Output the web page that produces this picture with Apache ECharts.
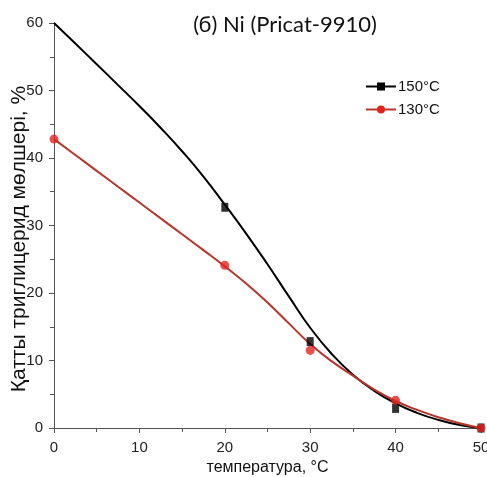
<!DOCTYPE html>
<html>
<head>
<meta charset="utf-8">
<script src="https://cdn.jsdelivr.net/npm/echarts@6/dist/echarts.min.js"></script>
<style>
html,body{margin:0;padding:0;background:#fff;}
#chart{width:487px;height:477px;}
</style>
</head>
<body>
<div id="chart"></div>
<script>
// ---- data ----
const titleText = '(б) Ni (Pricat-9910)';
const xAxisTitle = 'температура, °C';
const yAxisTitle = 'Қатты триглицерид мөлшері, %';
const seriesNames = ['150°C', '130°C'];

// fitted curves
const curveX   = [0, 2.5, 5, 7.5, 10, 12.5, 15, 17.5, 20, 22.5, 25, 27.5, 30, 32.5, 35, 37.5, 40, 42.5, 45, 47.5, 50];
const curve150 = [60, 56.95, 53.9, 50.8, 47.7, 44.45, 41.0, 37.25, 33.1, 28.8, 24.25, 19.5, 14.85, 11.0, 7.9, 5.5, 3.65, 2.25, 1.2, 0.45, 0];
const curve130 = [42.8, 40.45, 38.1, 35.75, 33.4, 31.05, 28.7, 26.35, 23.95, 21.4, 18.6, 15.5, 12.45, 9.9, 7.75, 5.7, 4.0, 2.7, 1.6, 0.7, 0];

// measured points
const pointsX150 = [20, 30, 40, 50];
const points150  = [32.7, 12.8, 2.9, 0];
const pointsX130 = [0, 20, 30, 40, 50];
const points130  = [42.8, 24.1, 11.5, 4.1, 0];

const xTicks = {min: 0, max: 50, interval: 10};
const yTicks = {min: 0, max: 60, interval: 10};

const zip = (xs, ys) => xs.map((x, i) => [x, ys[i]]);

const chart = echarts.init(document.getElementById('chart'), null, {renderer: 'canvas'});
const axisCol = '#555';
const labelFont = '"Liberation Sans Narrow", "Liberation Sans", Arial, sans-serif';

chart.setOption({
  animation: false,
  backgroundColor: '#fff',
  title: {
    text: titleText,
    left: 280,
    top: 9,
    textAlign: 'center',
    textStyle: {fontFamily: 'Lato, "Open Sans", sans-serif', fontSize: 22, fontWeight: 'normal', color: '#111'}
  },
  legend: {
    orient: 'vertical',
    left: 360,
    top: 74,
    itemWidth: 30,
    itemHeight: 10,
    itemGap: 8,
    data: seriesNames,
    textStyle: {fontFamily: labelFont, fontSize: 15, color: '#111', padding: [0, 0, 0, -3]}
  },
  grid: {left: 54, right: 6, top: 23, bottom: 49, containLabel: false, outerBoundsMode: 'none'},
  xAxis: {
    type: 'value',
    min: xTicks.min, max: xTicks.max, interval: xTicks.interval,
    name: xAxisTitle,
    nameLocation: 'middle',
    nameGap: 31,
    nameTextStyle: {fontFamily: '"Liberation Sans", Arial, sans-serif', fontSize: 16, color: '#111'},
    axisLine: {show: true, lineStyle: {color: axisCol, width: 1}},
    axisTick: {show: true, length: 5, lineStyle: {color: axisCol}},
    minorTick: {show: true, splitNumber: 2, length: 4, lineStyle: {color: axisCol}},
    splitLine: {show: false},
    axisLabel: {fontFamily: labelFont, fontSize: 15, color: '#222', margin: 12}
  },
  yAxis: {
    type: 'value',
    min: yTicks.min, max: yTicks.max, interval: yTicks.interval,
    axisLine: {show: true, lineStyle: {color: axisCol, width: 1}},
    axisTick: {show: true, length: 5, lineStyle: {color: axisCol}},
    minorTick: {show: true, splitNumber: 2, length: 4, lineStyle: {color: axisCol}},
    splitLine: {show: false},
    axisLabel: {fontFamily: labelFont, fontSize: 15, color: '#222', margin: 11}
  },
  graphic: [{
    type: 'text',
    x: 19,
    y: 239,
    rotation: Math.PI / 2,
    style: {
      text: yAxisTitle,
      fontFamily: '"Liberation Sans", Arial, sans-serif',
      fontSize: 21,
      fill: '#111',
      textAlign: 'center',
      textVerticalAlign: 'middle'
    }
  }],
  series: [
    {
      name: seriesNames[0],
      type: 'line',
      data: zip(curveX, curve150),
      smooth: 0.5,
      symbol: 'rect',
      symbolSize: [7, 9],
      showSymbol: false,
      lineStyle: {color: '#000', width: 2},
      itemStyle: {color: '#000'},
      z: 2
    },
    {
      name: seriesNames[1],
      type: 'line',
      data: zip(curveX, curve130),
      smooth: 0.5,
      symbol: 'circle',
      symbolSize: 9,
      showSymbol: false,
      lineStyle: {color: '#b8352b', width: 2},
      itemStyle: {color: '#e3231f'},
      z: 3
    },
    {
      name: seriesNames[0] + ' data',
      type: 'scatter',
      data: zip(pointsX150, points150),
      symbol: 'rect',
      symbolSize: [7, 9],
      itemStyle: {color: '#000'},
      clip: true,
      z: 4
    },
    {
      name: seriesNames[1] + ' data',
      type: 'scatter',
      data: zip(pointsX130, points130),
      symbol: 'circle',
      symbolSize: 9,
      itemStyle: {color: '#e3231f'},
      clip: true,
      z: 5
    }
  ]
});
</script>
</body>
</html>
